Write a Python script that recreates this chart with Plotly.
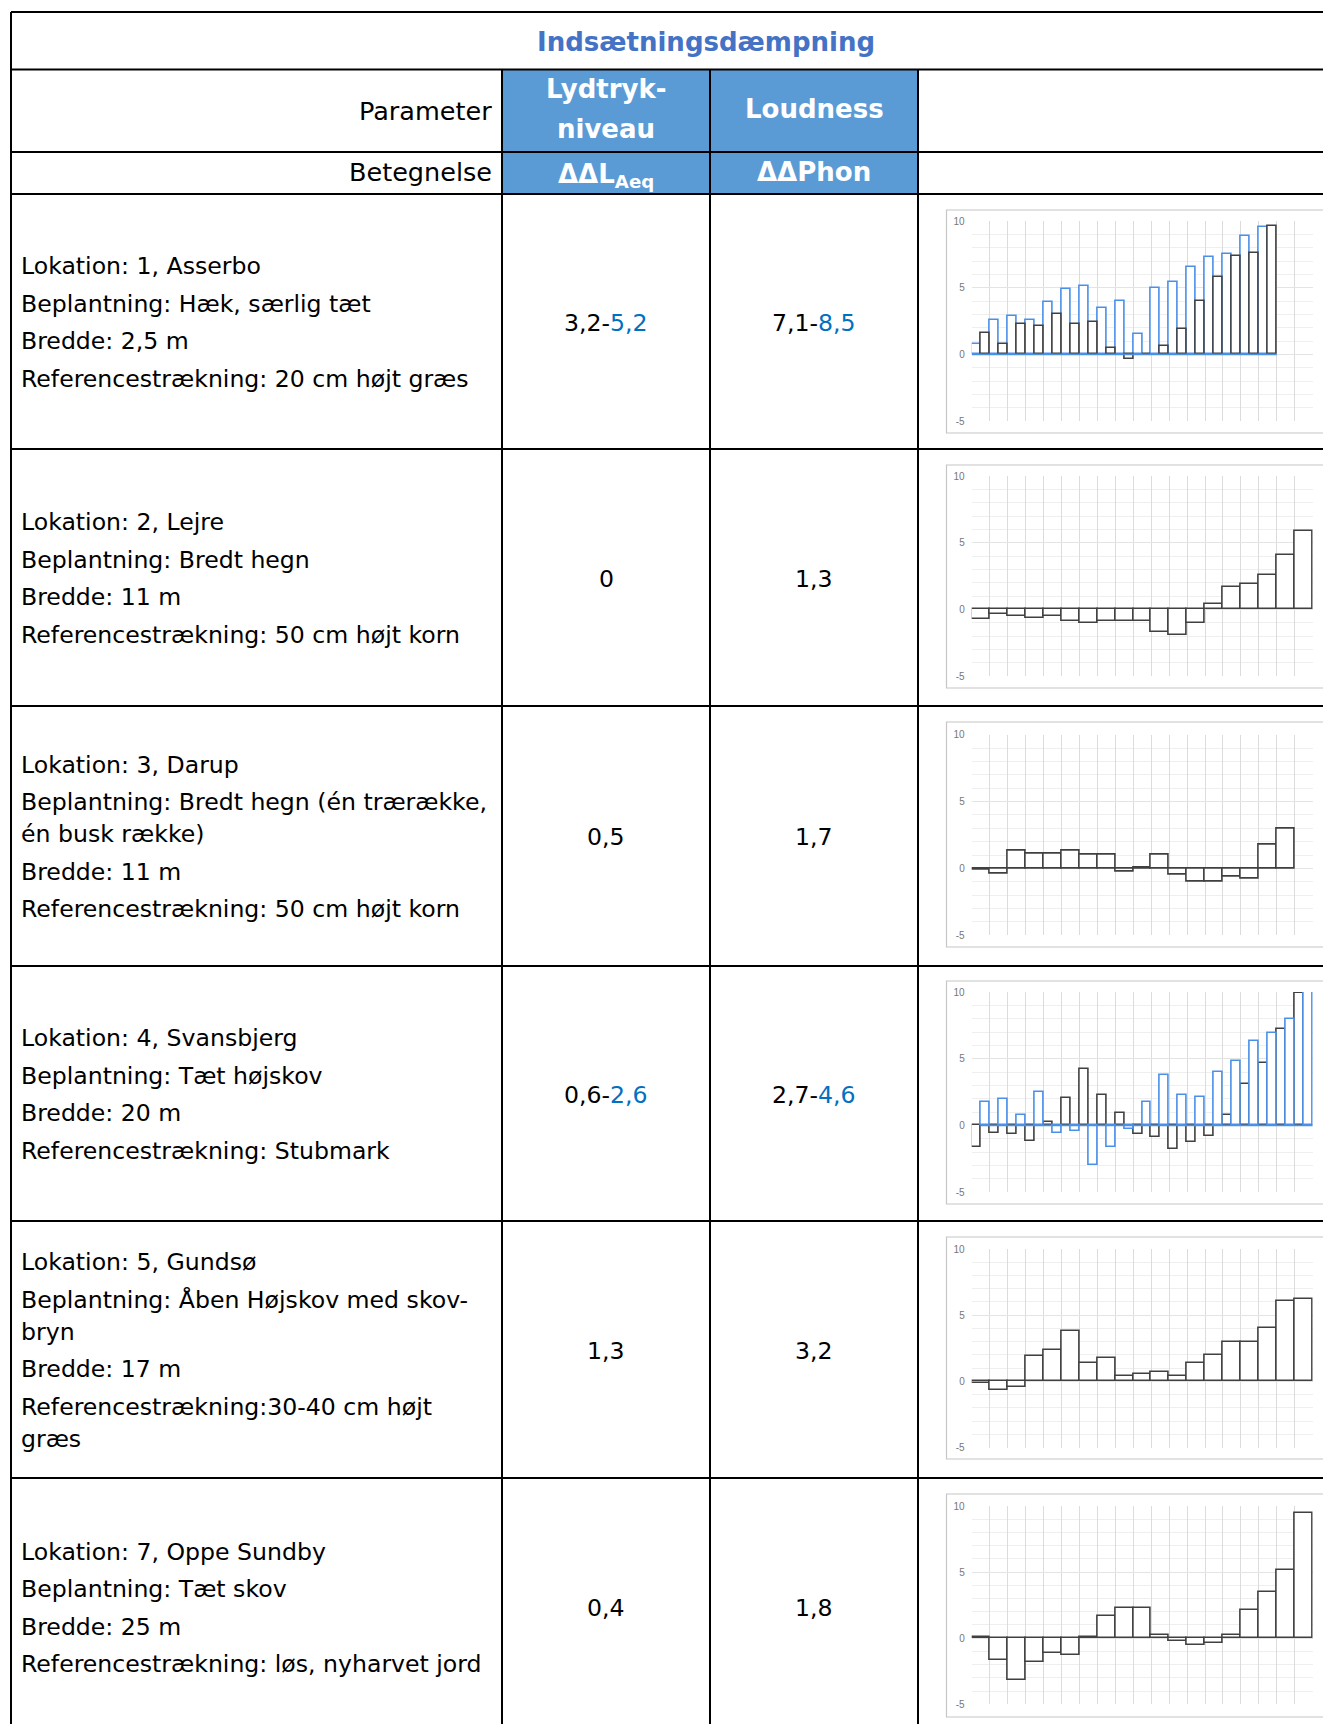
import plotly.graph_objects as go

W, H = 1323, 1724

# Frequency band index on the x axis of every mini chart
bands = list(range(1, 20))

# Insertion loss per band (dB / phon) for each location
asserbo_blue = [0.8, 2.6, 2.9, 2.6, 3.9, 4.9, 5.15, 3.5, 4.0, 1.5, 5.0, 5.4, 6.55, 7.3, 7.55, 8.9, 9.55]
asserbo_black = [1.6, 0.75, 2.3, 2.15, 3.05, 2.3, 2.4, 0.5, -0.35, 0.05, 0.6, 1.9, 4.0, 5.8, 7.35, 7.6, 9.65]
lejre = [-0.75, -0.35, -0.5, -0.65, -0.5, -0.9, -1.05, -0.9, -0.9, -0.9, -1.7, -1.9, -1.0, 0.4, 1.7, 1.9, 2.55, 4.05, 5.9]
darup = [-0.1, -0.4, 1.3, 1.1, 1.1, 1.3, 1.0, 1.0, -0.25, 0.08, 1.0, -0.45, -1.0, -1.0, -0.6, -0.75, 1.8, 2.95]
svansbjerg_black = [-1.65, -0.55, -0.65, -1.15, 0.22, 2.05, 4.2, 2.3, 0.9, -0.65, -0.9, -1.8, -1.25, -0.8, 0.8, 3.1, 4.7, 7.2, 9.9]
svansbjerg_blue = [1.75, 2.0, 0.8, 2.5, -0.55, -0.4, -3.0, -1.6, -0.3, 1.75, 3.8, 2.25, 2.15, 4.0, 4.8, 6.3, 6.9, 7.95, 10.8]
gundsoe = [-0.1, -0.65, -0.4, 1.9, 2.4, 3.8, 1.4, 1.75, 0.38, 0.53, 0.75, 0.38, 1.4, 2.0, 3.0, 3.0, 4.0, 6.05, 6.25]
oppe_sundby = [0.08, -1.65, -3.15, -1.8, -1.15, -1.25, 0.1, 1.65, 2.25, 2.25, 0.22, -0.18, -0.53, -0.38, 0.25, 2.15, 3.5, 5.15, 9.45]

y_ticks = [-5, 0, 5, 10]

# Description column: paragraphs, each split into its wrapped lines
descriptions = [
    [["Lokation: 1, Asserbo"], ["Beplantning: Hæk, særlig tæt"], ["Bredde: 2,5 m"],
     ["Referencestrækning: 20 cm højt græs"]],
    [["Lokation: 2, Lejre"], ["Beplantning: Bredt hegn"], ["Bredde: 11 m"],
     ["Referencestrækning: 50 cm højt korn"]],
    [["Lokation: 3, Darup"], ["Beplantning: Bredt hegn (én trærække,", "én busk række)"],
     ["Bredde: 11 m"], ["Referencestrækning: 50 cm højt korn"]],
    [["Lokation: 4, Svansbjerg"], ["Beplantning: Tæt højskov"], ["Bredde: 20 m"],
     ["Referencestrækning: Stubmark"]],
    [["Lokation: 5, Gundsø"], ["Beplantning: Åben Højskov med skov-", "bryn"], ["Bredde: 17 m"],
     ["Referencestrækning:30-40 cm højt", "græs"]],
    [["Lokation: 7, Oppe Sundby"], ["Beplantning: Tæt skov"], ["Bredde: 25 m"],
     ["Referencestrækning: løs, nyharvet jord"]],
]

BLUE_TXT = "#0070C0"
laeq_values = [("3,2", "5,2"), ("0", None), ("0,5", None), ("0,6", "2,6"), ("1,3", None), ("0,4", None)]
phon_values = [("7,1", "8,5"), ("1,3", None), ("1,7", None), ("2,7", "4,6"), ("3,2", None), ("1,8", None)]

# Series drawn in each location's chart: (values, colour), in group order
chart_series = [
    [(asserbo_blue, "blue"), (asserbo_black, "black")],
    [(lejre, "black")],
    [(darup, "black")],
    [(svansbjerg_black, "black"), (svansbjerg_blue, "blue")],
    [(gundsoe, "black")],
    [(oppe_sundby, "black")],
]

# ---- table geometry (pixels) ----
COLS = [11, 502, 710, 918, 1401]
ROWS = [12, 69.5, 152, 194, 449, 706, 966, 1221, 1478, 1740]
PLOT_X = (971.7, 1312.7)
PLOT_Y = [(221, 421), (476, 676), (734.7, 935.3), (992, 1192), (1249, 1447.7), (1506, 1704.3)]
FRAMES = [(210, 433), (465, 688), (722, 947), (981, 1204), (1237, 1459), (1494, 1717)]

LINE_COLORS = {"blue": "#4a90e8", "black": "#404040"}
BODY = "DejaVu Sans"


def fx(px):
    return px / W


def fy(py):
    return 1 - py / H


fig = go.Figure()
shapes = []
annotations = []

# header cell fill
shapes.append(dict(type="rect", xref="paper", yref="paper", x0=fx(COLS[1]), x1=fx(COLS[3]),
                   y0=fy(ROWS[1]), y1=fy(ROWS[3]), fillcolor="#5B9BD5", line=dict(width=0), layer="below"))

# chart frames
for top, bot in FRAMES:
    shapes.append(dict(type="rect", xref="paper", yref="paper", x0=fx(946.5), x1=fx(1345),
                       y0=fy(bot), y1=fy(top), line=dict(color="#c6c6c6", width=1.2),
                       fillcolor="rgba(0,0,0,0)", layer="below"))

# table rules
for r in ROWS[:-1]:
    shapes.append(dict(type="line", xref="paper", yref="paper", x0=fx(COLS[0]), x1=fx(COLS[-1]),
                       y0=fy(r), y1=fy(r), line=dict(color="black", width=2)))
shapes.append(dict(type="line", xref="paper", yref="paper", x0=fx(COLS[0]), x1=fx(COLS[0]),
                   y0=fy(ROWS[0]), y1=fy(ROWS[-1]), line=dict(color="black", width=2)))
for c in COLS[1:4]:
    shapes.append(dict(type="line", xref="paper", yref="paper", x0=fx(c), x1=fx(c),
                       y0=fy(ROWS[1]), y1=fy(ROWS[-1]), line=dict(color="black", width=2)))


def text(x, y, s, size=23.6, color="black", xanchor="left", bold=False):
    if bold:
        s = "<b>" + s + "</b>"
    annotations.append(dict(xref="paper", yref="paper", x=fx(x), y=fy(y), text=s, showarrow=False,
                            xanchor=xanchor, yanchor="middle",
                            font=dict(family=BODY, size=size, color=color)))


# header
text((COLS[0] + COLS[-1]) / 2, 42, "Indsætningsdæmpning", size=26, color="#4472C4", xanchor="center", bold=True)
text(494, 111.5, "Parameter", size=25.5, xanchor="right")
text(494, 172, "Betegnelse", size=25.5, xanchor="right")
c2 = (COLS[1] + COLS[2]) / 2
c3 = (COLS[2] + COLS[3]) / 2
text(c2, 89, "Lydtryk-", size=26, color="white", xanchor="center", bold=True)
text(c2, 129, "niveau", size=26, color="white", xanchor="center", bold=True)
text(c3, 109, "Loudness", size=26, color="white", xanchor="center", bold=True)
text(c2, 175, "ΔΔL<sub>Aeq</sub>", size=26, color="white", xanchor="center", bold=True)
text(c3, 172, "ΔΔPhon", size=26, color="white", xanchor="center", bold=True)


def value_text(pair):
    low, high = pair
    if high is None:
        return low
    return f"{low}-<span style='color:{BLUE_TXT}'>{high}</span>"


PARA_GAP = 37.4
WRAP_GAP = 32
for i, paras in enumerate(descriptions):
    top, bot = ROWS[3 + i], ROWS[4 + i]
    if i == len(descriptions) - 1:
        bot = 1736
    centre = (top + bot) / 2 + 1
    offsets = []
    y = 0.0
    for p, para in enumerate(paras):
        for l, _ in enumerate(para):
            if p > 0 or l > 0:
                y += WRAP_GAP if l > 0 else PARA_GAP
            offsets.append(y)
    start = centre - offsets[-1] / 2
    lines = [ln for para in paras for ln in para]
    for ln, off in zip(lines, offsets):
        text(18.5, start + off, ln)
    text(c2, centre, value_text(laeq_values[i]), xanchor="center")
    text(c3, centre, value_text(phon_values[i]), xanchor="center")

# ---- mini bar charts ----
for k, series in enumerate(chart_series):
    n_ax = "" if k == 0 else str(k + 1)
    xa, ya = "x" + n_ax, "y" + n_ax
    width = 1.0 / len(series)
    for j, (vals, col) in enumerate(series):
        offset = -0.5 + j * width
        fig.add_trace(go.Bar(
            x=bands[:len(vals)], y=vals, width=width, offset=offset,
            marker=dict(color="white", line=dict(color=LINE_COLORS[col], width=1.6)),
            xaxis=xa, yaxis=ya, hoverinfo="skip", showlegend=False))
    if len(series) > 1:
        # baseline of the blue series
        for j, (vals, col) in enumerate(series):
            if col == "blue":
                n = max(len(v) for v, _ in series)
                fig.add_trace(go.Scatter(
                    x=[bands[0] - 0.5 + j * width, bands[n - 1] + 0.5], y=[0, 0], mode="lines",
                    line=dict(color=LINE_COLORS["blue"], width=1.6),
                    xaxis=xa, yaxis=ya, hoverinfo="skip", showlegend=False))
    top, bot = PLOT_Y[k]
    fig.layout["xaxis" + n_ax] = dict(
        domain=[fx(PLOT_X[0]), fx(PLOT_X[1])], anchor=ya, range=[bands[0] - 0.5, bands[-1] + 0.5],
        tickmode="linear", tick0=0.5, dtick=1, showticklabels=False, ticks="", automargin=False,
        showgrid=True, gridcolor="#dcdcdc", gridwidth=1, zeroline=False, showline=False, fixedrange=True)
    fig.layout["yaxis" + n_ax] = dict(
        domain=[fy(bot), fy(top)], anchor=xa, range=[y_ticks[0], y_ticks[-1]],
        tickmode="array", tickvals=y_ticks, ticktext=[str(v) for v in y_ticks], ticks="",
        ticklabelstandoff=6, automargin=False,
        tickfont=dict(family="Liberation Sans", size=10, color="#777777"),
        showgrid=True, gridcolor="#e4e4e4", gridwidth=1,
        minor=dict(tickmode="linear", tick0=0, dtick=1, showgrid=True, gridcolor="#efefef", gridwidth=1),
        zeroline=False, showline=False, fixedrange=True)

fig.update_layout(
    width=W, height=H, margin=dict(l=0, r=0, t=0, b=0, pad=0, autoexpand=False),
    paper_bgcolor="white", plot_bgcolor="white",
    barmode="overlay", bargap=0, showlegend=False,
    shapes=shapes, annotations=annotations,
)

fig.write_html("out.html", config={"displayModeBar": False})
